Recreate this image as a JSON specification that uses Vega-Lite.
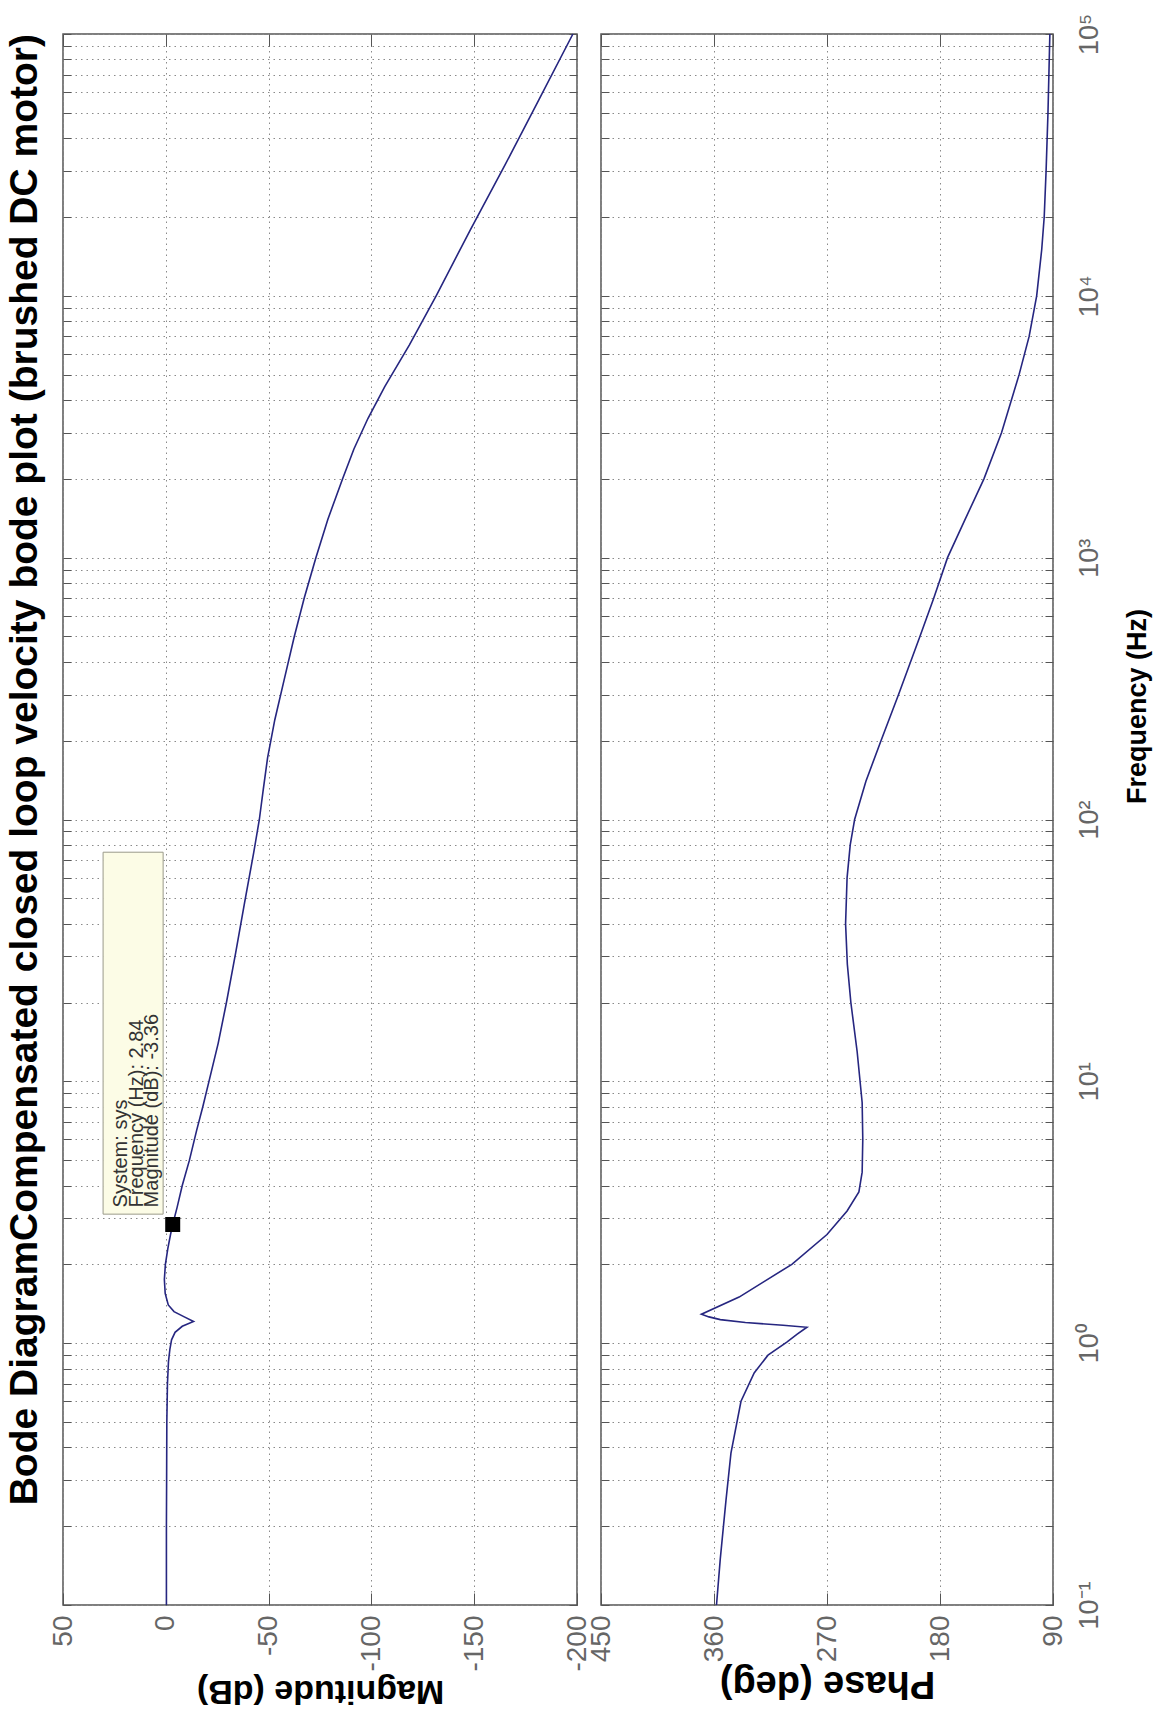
{
  "$schema": "https://vega.github.io/schema/vega-lite/v6.json",
  "background": "white",
  "padding": {"left": 6, "top": 12, "right": 5, "bottom": 5},
  "autosize": {"type": "pad"},
  "title": {"text": "Bode DiagramCompensated closed loop velocity bode plot (brushed DC motor)", "orient": "left", "anchor": "end", "frame": "group", "fontSize": 39, "font": "Liberation Sans", "fontWeight": "bold", "color": "black", "offset": 3},
  "config": {
    "font": "Liberation Sans",
    "view": {"stroke": "#555555", "strokeWidth": 1.5},
    "axis": {"labelFont": "Liberation Sans", "titleFont": "Liberation Sans", "domain": false, "tickColor": "#555555", "gridColor": "#8a8a8a", "gridDash": [1.5, 4], "gridOpacity": 1, "labelOverlap": false, "labelBound": false, "labelFlush": false}
  },
  "datasets": {
    "mag": [
      {"f": 0.1, "v": -0.3}, {"f": 0.2, "v": -0.3}, {"f": 0.3, "v": -0.4}, {"f": 0.5, "v": -0.5}, {"f": 0.7, "v": -0.8}, {"f": 0.85, "v": -1.3}, {"f": 0.95, "v": -2.0}, {"f": 1.03, "v": -2.8}, {"f": 1.1, "v": -4.5}, {"f": 1.16, "v": -8}, {"f": 1.21, "v": -13.5}, {"f": 1.26, "v": -9}, {"f": 1.32, "v": -4}, {"f": 1.4, "v": -1.2}, {"f": 1.55, "v": 0.3}, {"f": 1.75, "v": 0.7}, {"f": 2.0, "v": 0.2}, {"f": 2.3, "v": -1.0}, {"f": 2.6, "v": -2.3}, {"f": 2.84, "v": -3.36}, {"f": 3.3, "v": -5.5}, {"f": 4.0, "v": -8}, {"f": 5.0, "v": -11.5}, {"f": 6.5, "v": -15}, {"f": 8, "v": -18}, {"f": 10, "v": -21}, {"f": 14, "v": -25.5}, {"f": 20, "v": -29.5}, {"f": 31, "v": -34}, {"f": 48, "v": -38.3}, {"f": 75, "v": -42.8}, {"f": 100, "v": -45.5}, {"f": 130, "v": -47.4}, {"f": 172, "v": -49.5}, {"f": 240, "v": -53}, {"f": 340, "v": -57.5}, {"f": 500, "v": -62.5}, {"f": 700, "v": -67.3}, {"f": 1000, "v": -73}, {"f": 1400, "v": -78.8}, {"f": 2000, "v": -86}, {"f": 2600, "v": -91.5}, {"f": 3400, "v": -98.3}, {"f": 4500, "v": -106.5}, {"f": 6500, "v": -118.5}, {"f": 10000, "v": -131.5}, {"f": 17800, "v": -148}, {"f": 31620, "v": -165}, {"f": 56200, "v": -181.5}, {"f": 100000, "v": -198}
    ],
    "phase": [
      {"f": 0.1, "v": 358}, {"f": 0.15, "v": 355}, {"f": 0.25, "v": 350.5}, {"f": 0.38, "v": 346.5}, {"f": 0.6, "v": 338.5}, {"f": 0.77, "v": 328}, {"f": 0.9, "v": 317}, {"f": 1.01, "v": 302}, {"f": 1.08, "v": 294}, {"f": 1.15, "v": 286}, {"f": 1.17, "v": 305}, {"f": 1.2, "v": 335}, {"f": 1.23, "v": 355}, {"f": 1.26, "v": 364}, {"f": 1.29, "v": 370}, {"f": 1.5, "v": 340}, {"f": 2.0, "v": 298}, {"f": 2.6, "v": 270}, {"f": 3.2, "v": 254}, {"f": 3.78, "v": 244.6}, {"f": 4.5, "v": 242}, {"f": 6, "v": 241.5}, {"f": 8.3, "v": 242}, {"f": 13, "v": 246}, {"f": 20, "v": 251}, {"f": 28, "v": 253.8}, {"f": 40, "v": 255.2}, {"f": 60, "v": 254}, {"f": 80, "v": 251.5}, {"f": 100, "v": 248}, {"f": 140, "v": 239}, {"f": 200, "v": 227}, {"f": 300, "v": 213}, {"f": 500, "v": 196}, {"f": 700, "v": 185}, {"f": 1000, "v": 174}, {"f": 1400, "v": 160}, {"f": 2000, "v": 145}, {"f": 3000, "v": 131}, {"f": 5000, "v": 117}, {"f": 7000, "v": 109}, {"f": 10000, "v": 103}, {"f": 15000, "v": 99}, {"f": 20000, "v": 97}, {"f": 30000, "v": 95.5}, {"f": 50000, "v": 94}, {"f": 100000, "v": 92.5}
    ],
    "tip": [{"f": 2.84, "v": -3.36}],
    "tipbox": [{"f1": 3.11, "f2": 75, "m1": 1.3, "m2": 30.5}],
    "tiptext": [{"f": 3.3, "m": 26.5, "lines": ["System: sys", "Frequency (Hz): 2.84", "Magnitude (dB): -3.36"]}]
  },
  "bounds": "flush",
  "spacing": 24,
  "hconcat": [
    {
      "width": 514,
      "height": 1571,
      "resolve": {"axis": {"x": "independent", "y": "independent"}},
      "layer": [
        {
          "data": {"name": "mag"},
          "mark": {"type": "line", "color": "#262680", "strokeWidth": 1.6},
          "encoding": {
            "x": {"field": "v", "type": "quantitative", "scale": {"domain": [-200, 50], "reverse": true, "nice": false, "zero": false},
              "axis": {"orient": "bottom", "values": [-200, -150, -100, -50, 0, 50], "labelExpr": "replace(datum.label, '−', '-')", "labelAngle": 270, "labelAlign": "right", "labelBaseline": "middle", "labelFontSize": 28, "labelColor": "#666666", "labelPadding": 22, "tickSize": -12, "grid": true, "title": "Magnitude (dB)", "titleAngle": 180, "titleBaseline": "bottom", "titleFontSize": 34, "titleFontWeight": "bold", "titleColor": "black", "titlePadding": 2}},
            "y": {"field": "f", "type": "quantitative", "scale": {"type": "log", "domain": [0.1, 100000], "nice": false},
              "axis": {"orient": "left", "values": [0.1,0.2,0.3,0.4,0.5,0.6,0.7,0.8,0.9,1,2,3,4,5,6,7,8,9,10,20,30,40,50,60,70,80,90,100,200,300,400,500,600,700,800,900,1000,2000,3000,4000,5000,6000,7000,8000,9000,10000,20000,30000,40000,50000,60000,70000,80000,90000,100000], "labels": false, "tickSize": -8, "grid": true, "title": null}},
            "order": {"field": "f", "type": "quantitative"}
          }
        },
        {
          "data": {"name": "mag"},
          "mark": {"type": "line", "opacity": 0},
          "encoding": {
            "x": {"field": "v", "type": "quantitative", "axis": {"orient": "top", "values": [-200, -150, -100, -50, 0, 50], "labels": false, "tickSize": -12, "grid": false, "title": null}},
            "y": {"field": "f", "type": "quantitative", "axis": {"orient": "right", "values": [0.1,0.2,0.3,0.4,0.5,0.6,0.7,0.8,0.9,1,2,3,4,5,6,7,8,9,10,20,30,40,50,60,70,80,90,100,200,300,400,500,600,700,800,900,1000,2000,3000,4000,5000,6000,7000,8000,9000,10000,20000,30000,40000,50000,60000,70000,80000,90000,100000], "labels": false, "tickSize": -8, "grid": false, "title": null}},
            "order": {"field": "f", "type": "quantitative"}
          }
        },
        {
          "data": {"name": "tipbox"},
          "mark": {"type": "rect", "fill": "#fcfce6", "stroke": "#9a9a8a", "strokeWidth": 1},
          "encoding": {
            "x": {"field": "m1", "type": "quantitative", "axis": null},
            "x2": {"field": "m2"},
            "y": {"field": "f1", "type": "quantitative", "axis": null},
            "y2": {"field": "f2"}
          }
        },
        {
          "data": {"name": "tiptext"},
          "mark": {"type": "text", "angle": 270, "align": "left", "baseline": "top", "fontSize": 20, "lineHeight": 15.5, "color": "#333333", "font": "Liberation Sans"},
          "encoding": {
            "x": {"field": "m", "type": "quantitative", "axis": null},
            "y": {"field": "f", "type": "quantitative", "axis": null},
            "text": {"field": "lines"}
          }
        },
        {
          "data": {"name": "tip"},
          "mark": {"type": "square", "size": 225, "color": "black", "filled": true, "opacity": 1},
          "encoding": {
            "x": {"field": "v", "type": "quantitative", "axis": null},
            "y": {"field": "f", "type": "quantitative", "axis": null}
          }
        }
      ]
    },
    {
      "width": 452,
      "height": 1571,
      "resolve": {"axis": {"x": "independent", "y": "independent"}},
      "layer": [
        {
          "data": {"name": "phase"},
          "mark": {"type": "line", "color": "#262680", "strokeWidth": 1.6},
          "encoding": {
            "x": {"field": "v", "type": "quantitative", "scale": {"domain": [90, 450], "reverse": true, "nice": false, "zero": false},
              "axis": {"orient": "bottom", "values": [90, 180, 270, 360, 450], "labelAngle": 270, "labelAlign": "right", "labelBaseline": "middle", "labelFontSize": 28, "labelColor": "#666666", "labelPadding": 22, "tickSize": -12, "grid": true, "title": "Phase (deg)", "titleAngle": 180, "titleBaseline": "bottom", "titleFontSize": 38, "titleFontWeight": "bold", "titleColor": "black", "titlePadding": 2}},
            "y": {"field": "f", "type": "quantitative", "scale": {"type": "log", "domain": [0.1, 100000], "nice": false},
              "axis": {"orient": "right", "values": [0.1,0.2,0.3,0.4,0.5,0.6,0.7,0.8,0.9,1,2,3,4,5,6,7,8,9,10,20,30,40,50,60,70,80,90,100,200,300,400,500,600,700,800,900,1000,2000,3000,4000,5000,6000,7000,8000,9000,10000,20000,30000,40000,50000,60000,70000,80000,90000,100000],
                "labelExpr": "abs(log(datum.value)/LN10 - round(log(datum.value)/LN10)) < 0.001 ? '10' + ['⁻¹','⁰','¹','²','³','⁴','⁵'][round(log(datum.value)/LN10) + 1] : ''",
                "labelAngle": 270, "labelAlign": "center", "labelBaseline": "top", "labelFontSize": 27, "labelColor": "#666666", "labelPadding": 31, "tickSize": -8, "grid": true,
                "title": "Frequency  (Hz)", "titleAngle": 270, "titleBaseline": "top", "titleFontSize": 27, "titleFontWeight": "bold", "titleColor": "black", "titleX": 71, "titleY": 672}},
            "order": {"field": "f", "type": "quantitative"}
          }
        },
        {
          "data": {"name": "phase"},
          "mark": {"type": "line", "opacity": 0},
          "encoding": {
            "x": {"field": "v", "type": "quantitative", "axis": {"orient": "top", "values": [90, 180, 270, 360, 450], "labels": false, "tickSize": -12, "grid": false, "title": null}},
            "y": {"field": "f", "type": "quantitative", "axis": {"orient": "left", "values": [0.1,0.2,0.3,0.4,0.5,0.6,0.7,0.8,0.9,1,2,3,4,5,6,7,8,9,10,20,30,40,50,60,70,80,90,100,200,300,400,500,600,700,800,900,1000,2000,3000,4000,5000,6000,7000,8000,9000,10000,20000,30000,40000,50000,60000,70000,80000,90000,100000], "labels": false, "tickSize": -8, "grid": false, "title": null}},
            "order": {"field": "f", "type": "quantitative"}
          }
        }
      ]
    }
  ]
}
